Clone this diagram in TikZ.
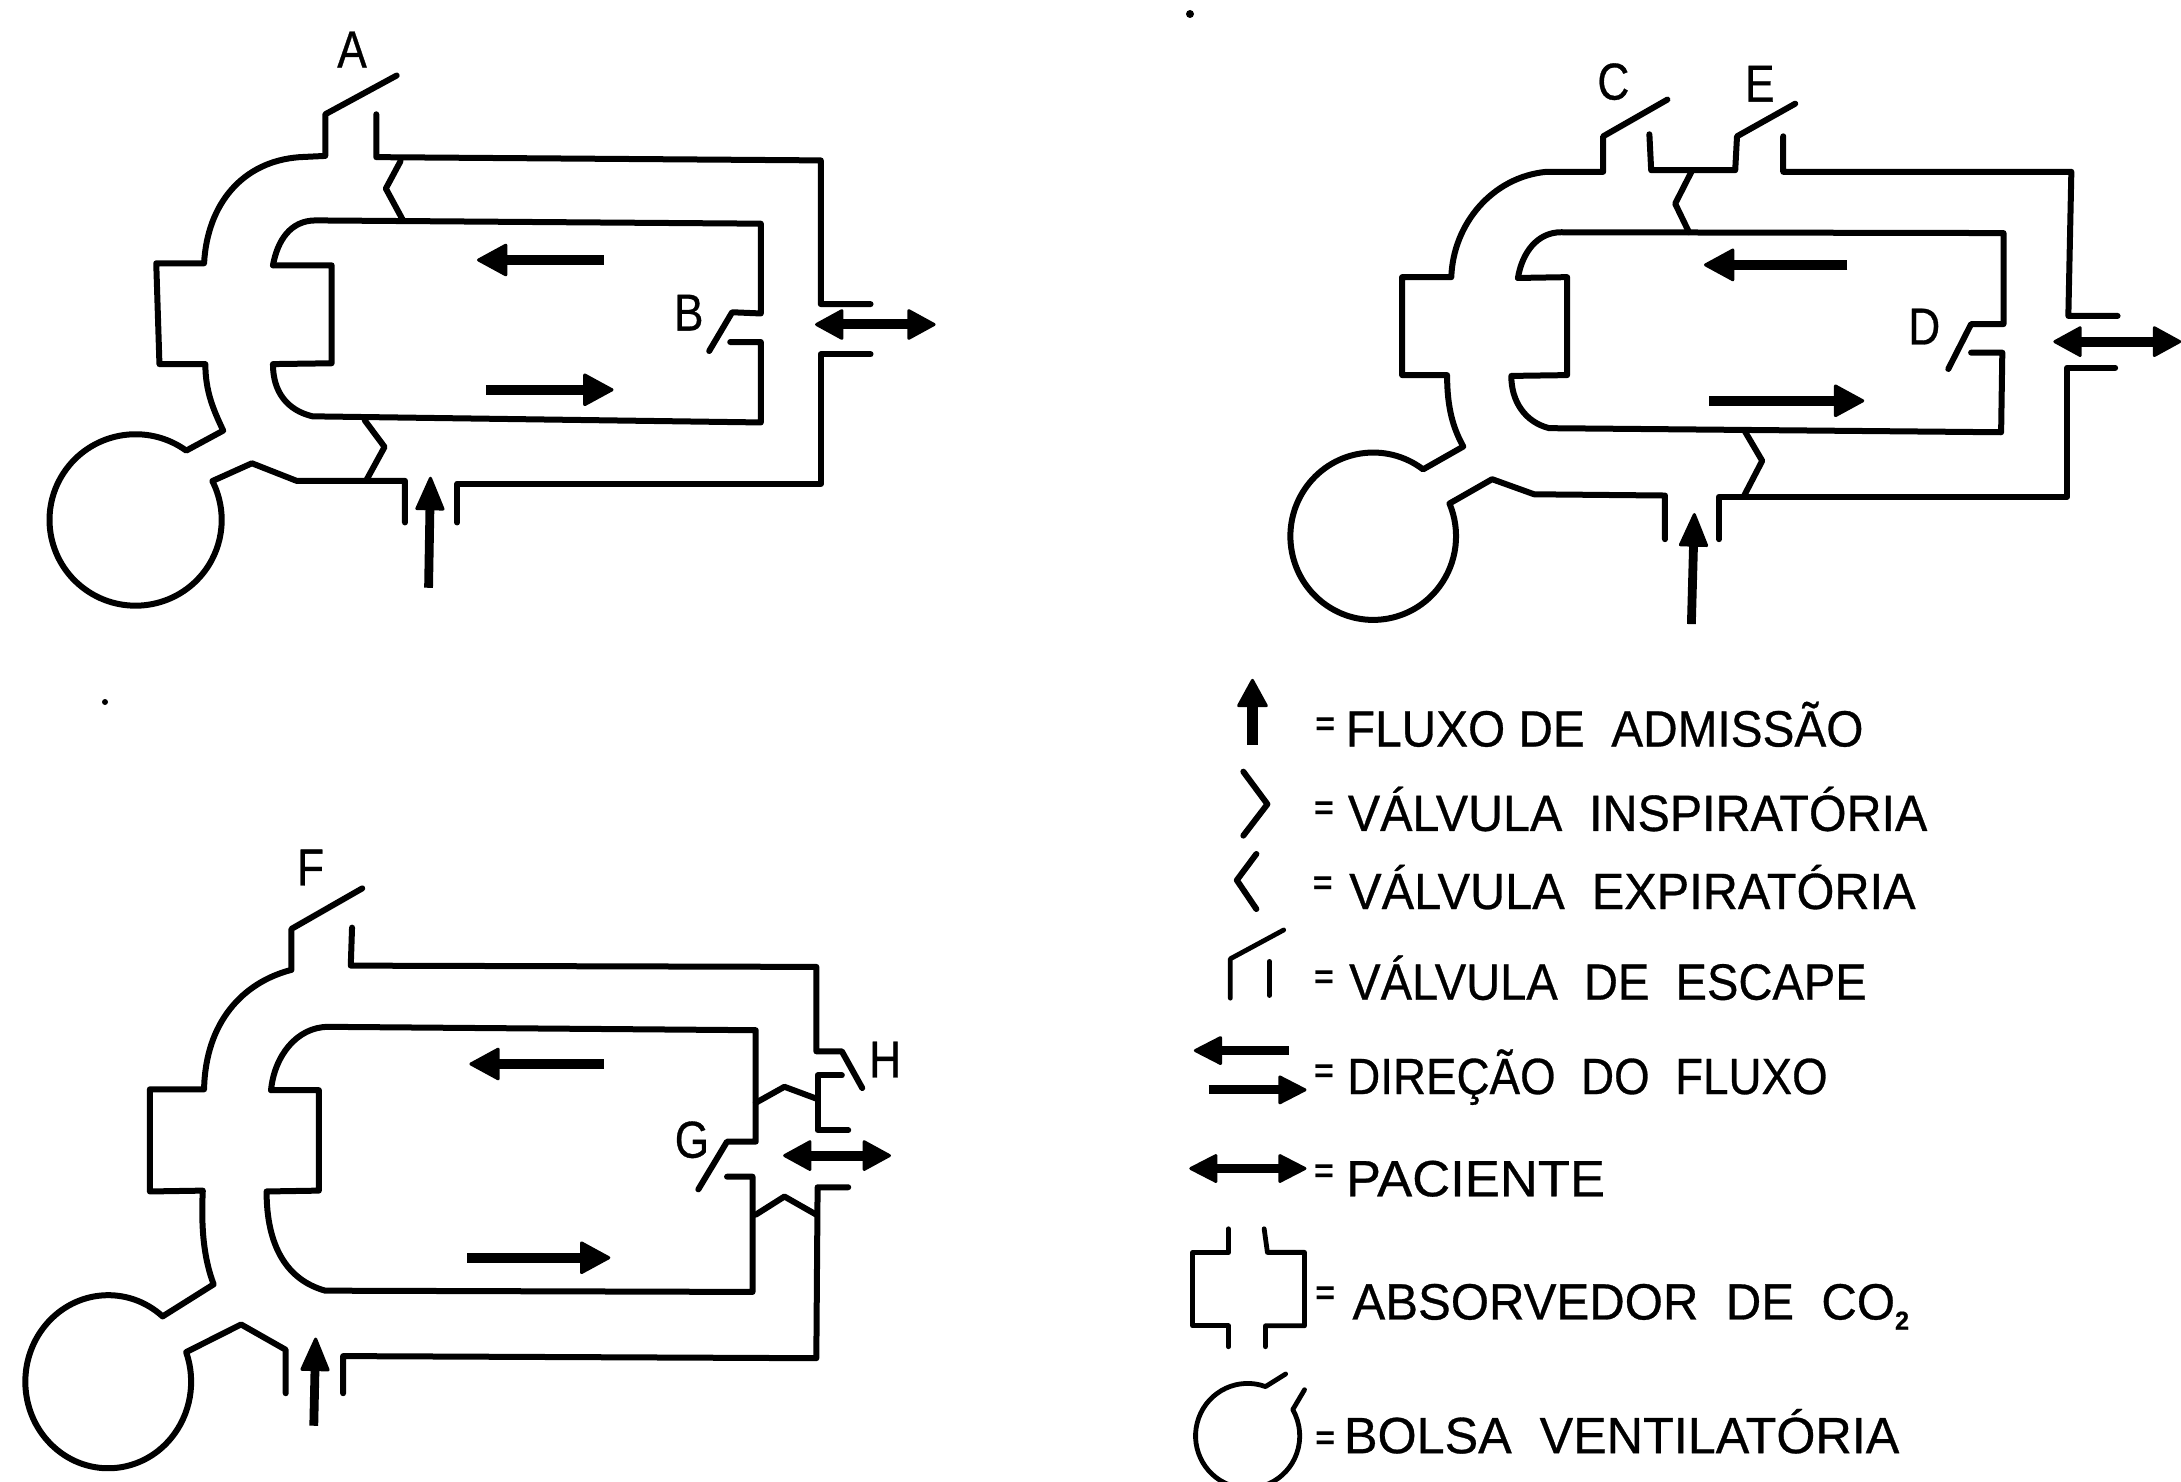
\documentclass[tikz,border=0pt]{standalone}
\usepackage{fontspec}
\setmainfont{Liberation Sans}
\newfontfamily\heavyfont[FakeBold=0.6]{Liberation Sans}
\usetikzlibrary{arrows.meta}
\newcommand\fitx[2]{\sbox0{#2}\pgfmathsetmacro\fitf{#1*0.3255/\the\wd0}\scalebox{\fitf}[1]{\usebox0}}
\newcommand\cond[1]{\scalebox{.85}[1]{#1}}
\tikzset{
  pipe/.style={line width=3pt,line join=round,line cap=round,black},
  flow/.style={line width=5pt,black},
  inflow/.style={line width=4.4pt,black},
  lhead/.style={-{Triangle[round,length=16pt,width=17pt,line width=1.5pt,fill=black]}},
  rhead/.style={-{Triangle[round,length=16pt,width=17pt,line width=1.5pt,fill=black]}},
  uphead/.style={-{Triangle[round,length=18pt,width=15pt,line width=1.5pt,fill=black]}},
  dblhead/.style={{Triangle[round,length=15pt,width=16pt,line width=1.5pt,fill=black]}-{Triangle[round,length=15pt,width=16pt,line width=1.5pt,fill=black]}},
  legarrow/.style={-{Triangle[round,length=15pt,width=15pt,line width=1.5pt,fill=black]}},
  legdbl/.style={{Triangle[round,length=15pt,width=15pt,line width=1.5pt,fill=black]}-{Triangle[round,length=15pt,width=15pt,line width=1.5pt,fill=black]}},
  legline/.style={line width=2.4pt},
  letter/.style={font=\heavyfont\fontsize{26}{26}\selectfont,anchor=base,inner sep=0pt},
  legendtext/.style={font=\heavyfont\fontsize{25.5}{25.5}\selectfont,anchor=base west,inner sep=0pt},
  eqsign/.style={font=\fontsize{17}{17}\selectfont\bfseries,anchor=center,inner sep=0pt},
  dA/.style={shift={(0pt,0pt)},x=0.31888pt,y=-0.20408pt},
  dB/.style={shift={(620pt,-10pt)},x=0.30012pt,y=-0.20408pt},
  dC/.style={shift={(0pt,-410pt)},x=0.31888pt,y=-0.21106pt},
  dL/.style={shift={(580pt,-330pt)},x=0.3255pt,y=-0.26212pt},
}
\begin{document}
\begin{tikzpicture}
\useasboundingbox[fill=white] (0pt,0pt) rectangle (1090.5pt,-741pt);
% ---------- Diagram A/B
\begin{scope}[dA]
\draw[pipe] (622,185) -- (510,280) -- (510,382) -- (470,385) .. controls (380,395) and (325,500) .. (320,645) -- (245,645) -- (250,892) -- (322,892)
  .. controls (322,960) and (335,1005) .. (350,1055) -- (292,1104)
  arc[start angle=-54,end angle=-387,x radius=135,y radius=210]
  -- (395,1135) -- (465,1178) -- (635,1178) -- (635,1280);
\draw[pipe] (590,280) -- (590,385) -- (1287,393) -- (1287,745) -- (1365,745);
\draw[pipe] (1365,868) -- (1287,868) -- (1287,1185) -- (717,1185) -- (717,1280);
\draw[pipe] (428,650) .. controls (435,590) and (455,540) .. (495,540) -- (1193,548) -- (1193,768) -- (1148,765) -- (1112,860);
\draw[pipe] (1145,838) -- (1193,838) -- (1193,1035) -- (490,1020) .. controls (450,1005) and (428,960) .. (428,892) -- (520,890) -- (520,650) -- (428,650);
\draw[pipe] (628,395) -- (605,462) -- (632,540);
\draw[pipe] (572,1030) -- (603,1095) -- (575,1175);
\draw[flow,lhead] (947,637) -- (748,637);
\draw[flow,rhead] (762,955) -- (962,955);
\draw[inflow,uphead] (672,1440) -- (675,1168);
\draw[flow,dblhead] (1278,795) -- (1467,795);
\node[letter] (lA) at (552,165) {\cond{A}};
\node[letter] (lB) at (1080,810) {\cond{B}};
\end{scope}
% ---------- Diagram C/D/E
\begin{scope}[dB]
\draw[pipe] (712,195) -- (605,285) -- (605,372) -- (510,372) .. controls (420,385) and (355,500) .. (352,630) -- (270,630) -- (270,870) -- (345,870)
  .. controls (345,950) and (355,1000) .. (372,1045) -- (305,1101)
  arc[start angle=-53,end angle=-383,x radius=138,y radius=205]
  -- (420,1125) -- (490,1162) -- (708,1165) -- (708,1272);
\draw[pipe] (682,280) -- (685,368) -- (825,368) -- (828,285) -- (925,205);
\draw[pipe] (905,285) -- (905,372) -- (1385,372) -- (1380,725) -- (1462,725);
\draw[pipe] (1458,852) -- (1378,852) -- (1378,1168) -- (798,1168) -- (798,1272);
\draw[pipe] (463,632) .. controls (470,570) and (495,520) .. (535,520) -- (1272,522) -- (1272,745) -- (1218,745) -- (1180,855);
\draw[pipe] (1218,815) -- (1270,815) -- (1268,1010) -- (515,1000) .. controls (475,985) and (452,935) .. (452,872) -- (545,870) -- (545,630) -- (463,632);
\draw[pipe] (752,372) -- (725,450) -- (748,520);
\draw[pipe] (840,1005) -- (870,1080) -- (840,1165);
\draw[flow,lhead] (1012,600) -- (773,600);
\draw[flow,rhead] (782,933) -- (1040,933);
\draw[inflow,uphead] (752,1480) -- (757,1208);
\draw[flow,dblhead] (1355,788) -- (1568,788);
\node[letter] (lC) at (622,195) {\cond{C}};
\node[letter] (lE) at (866,200) {\cond{E}};
\node[letter] (lD) at (1140,795) {\cond{D}};
\end{scope}
% ---------- Diagram F/G/H
\begin{scope}[dC]
\draw[pipe] (568,162) -- (457,258) -- (457,355) .. controls (380,385) and (322,480) .. (320,638) -- (235,638) -- (235,880) -- (318,878)
  .. controls (315,970) and (320,1040) .. (335,1100) -- (255,1176)
  arc[start angle=-49,end angle=-380,x radius=130,y radius=205]
  -- (378,1195) -- (448,1255) -- (448,1358);
\draw[pipe] (552,255) -- (550,345) -- (1280,348) -- (1280,548) -- (1320,548) -- (1352,635);
\draw[pipe] (1320,605) -- (1282,605) -- (1282,735) -- (1330,735);
\draw[pipe] (1330,870) -- (1282,870) -- (1280,1275) -- (538,1270) -- (538,1358);
\draw[pipe] (425,640) .. controls (430,560) and (465,490) .. (515,490) -- (1185,498) -- (1185,762) -- (1140,762) -- (1095,875);
\draw[pipe] (1140,845) -- (1180,845) -- (1180,1118) -- (510,1115) .. controls (450,1090) and (418,1010) .. (418,880) -- (500,878) -- (500,640) -- (425,640);
\draw[pipe] (1185,670) -- (1230,632) -- (1280,660);
\draw[pipe] (1185,935) -- (1230,892) -- (1280,935);
\draw[flow,lhead] (947,578) -- (736,578);
\draw[flow,rhead] (733,1037) -- (957,1037);
\draw[inflow,uphead] (492,1435) -- (495,1226);
\draw[flow,dblhead] (1228,795) -- (1397,795);
\node[letter] (lF) at (487,155) {\cond{F}};
\node[letter] (lG) at (1085,800) {\cond{G}};
\node[letter] (lH) at (1388,610) {\cond{H}};
\end{scope}
% ---------- Legend
\begin{scope}[dL]
\draw[flow,line width=5.5pt,-{Triangle[round,length=15pt,width=16pt,line width=1.5pt,fill=black]}] (142,162) -- (142,36);
\draw[pipe] (128,213) -- (165,275) -- (128,335);
\draw[pipe] (148,370) -- (118,420) -- (148,475);
\draw[pipe,legline] (108,645) -- (108,570) -- (190,515);
\draw[pipe,legline] (168,575) -- (168,640);
\draw[inflow,legarrow] (198,745) -- (52,745);
\draw[inflow,legarrow] (75,820) -- (225,820);
\draw[inflow,legdbl] (45,970) -- (225,970);
\draw[pipe,legline] (105,1085) -- (105,1130) -- (50,1130) -- (50,1270) -- (105,1270) -- (105,1310);
\draw[pipe,legline] (160,1085) -- (165,1130) -- (222,1130) -- (222,1270) -- (162,1270) -- (162,1310);
\draw[pipe,legline] (193,1362) -- (162,1386)
  arc[start angle=-70,end angle=-390,x radius=80,y radius=100] -- (222,1392);
\node[eqsign] (e1) at (254,128) {=};
\node[eqsign] (e2) at (252,288) {=};
\node[eqsign] (e3) at (250,430) {=};
\node[eqsign] (e4) at (252,610) {=};
\node[eqsign] (e5) at (252,790) {=};
\node[eqsign] (e6) at (252,980) {=};
\node[eqsign] (e7) at (254,1212) {=};
\node[eqsign] (e8) at (254,1490) {=};
\node[legendtext] (t1) at (285,165) {\fitx{795}{FLUXO DE\ \ ADMISSÃO}};
\node[legendtext] (t2) at (288,326) {\fitx{890}{VÁLVULA\ \ INSPIRATÓRIA}};
\node[legendtext] (t3) at (290,475) {\fitx{870}{VÁLVULA\ \ EXPIRATÓRIA}};
\node[legendtext] (t4) at (290,648) {\fitx{795}{VÁLVULA\ \ DE\ \ ESCAPE}};
\node[legendtext] (t5) at (287,828) {\fitx{738}{DIREÇÃO\ \ DO\ \ FLUXO}};
\node[legendtext] (t6) at (285,1023) {\fitx{398}{PACIENTE}};
\node[legendtext] (t7) at (295,1258) {\fitx{855}{ABSORVEDOR\ \ DE\ \ CO\raisebox{-.2em}{\fontsize{13}{13}\selectfont\bfseries 2}}};
\node[legendtext] (t8) at (282,1513) {\fitx{853}{BOLSA\ \ VENTILATÓRIA}};
\end{scope}
% specks
\fill (595pt,-7pt) circle (2pt);
\fill (52.5pt,-351pt) circle (1.5pt);
\end{tikzpicture}
\end{document}
